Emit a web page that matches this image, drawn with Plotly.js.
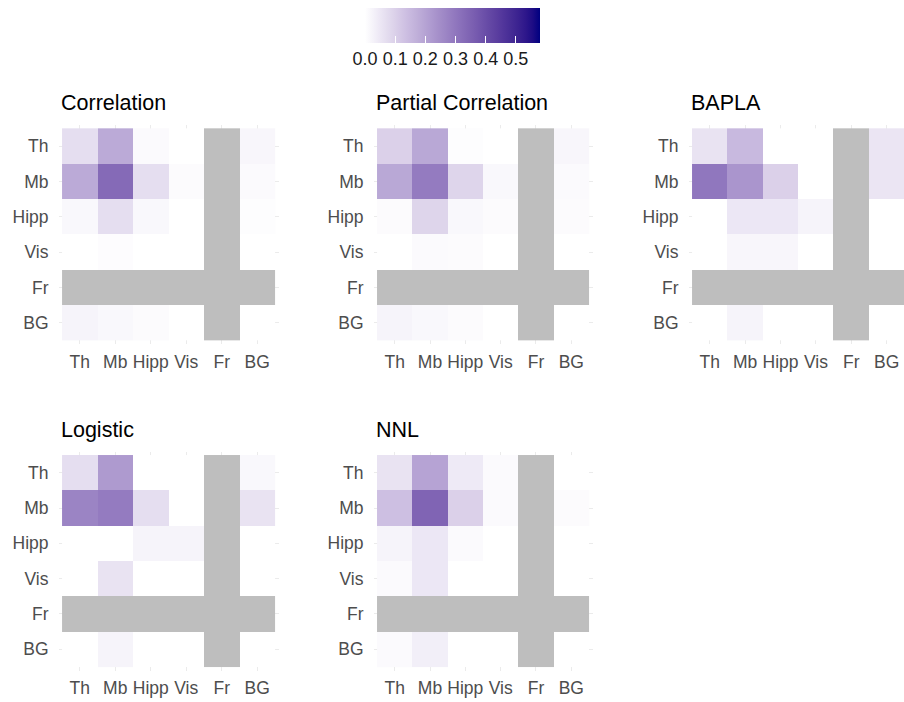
<!DOCTYPE html>
<html>
<head>
<meta charset="utf-8">
<script src="https://cdn.plot.ly/plotly-3.0.1.min.js"></script>
<style>
  html, body { margin: 0; padding: 0; background: #ffffff; }
  #chart { width: 904px; height: 702px; }
</style>
</head>
<body>
<div id="chart"></div>
<script>
// Brain regions (rows = source, columns = target)
const regions = ["Th", "Mb", "Hipp", "Vis", "Fr", "BG"];
const panelTitles = ["Correlation", "Partial Correlation", "BAPLA", "Logistic", "NNL"];
const colorTicks = [0, 0.1, 0.2, 0.3, 0.4, 0.5];

// Connection strengths; Fr was not recorded (null)
const correlation = [
  [0.07, 0.185, 0.01, 0, null, 0.02],
  [0.185, 0.33, 0.07, 0.008, null, 0.01],
  [0.015, 0.07, 0.015, 0, null, 0.005],
  [0, 0.006, 0, 0, null, 0],
  [null, null, null, null, null, null],
  [0.025, 0.015, 0.008, 0, null, 0]
];
const partialCorrelation = [
  [0.10, 0.19, 0.005, 0, null, 0.02],
  [0.19, 0.29, 0.09, 0.015, null, 0.012],
  [0.008, 0.09, 0.015, 0.008, null, 0.008],
  [0, 0.012, 0.008, 0, null, 0],
  [null, null, null, null, null, null],
  [0.025, 0.015, 0.008, 0, null, 0]
];
const bapla = [
  [0.06, 0.15, 0, 0, null, 0.055],
  [0.30, 0.23, 0.10, 0, null, 0.055],
  [0, 0.05, 0.05, 0.025, null, 0],
  [0, 0.02, 0.02, 0, null, 0],
  [null, null, null, null, null, null],
  [0, 0.025, 0, 0, null, 0]
];
const logistic = [
  [0.07, 0.22, 0, 0, null, 0.015],
  [0.27, 0.29, 0.07, 0, null, 0.06],
  [0, 0, 0.025, 0.025, null, 0],
  [0, 0.06, 0, 0, null, 0],
  [null, null, null, null, null, null],
  [0, 0.025, 0, 0, null, 0]
];
const nnl = [
  [0.06, 0.20, 0.045, 0.01, null, 0],
  [0.137, 0.345, 0.10, 0.01, null, 0.008],
  [0.025, 0.05, 0.012, 0, null, 0],
  [0.01, 0.05, 0, 0, null, 0],
  [null, null, null, null, null, null],
  [0.012, 0.035, 0, 0, null, 0]
];
const panelData = [correlation, partialCorrelation, bapla, logistic, nnl];

// White -> navy gradient interpolated in CIE Lab
function toLin(c) { c /= 255; return c <= 0.04045 ? c / 12.92 : Math.pow((c + 0.055) / 1.055, 2.4); }
function toSrgb(c) {
  const v = c <= 0.0031308 ? 12.92 * c : 1.055 * Math.pow(c, 1 / 2.4) - 0.055;
  return Math.round(Math.max(0, Math.min(1, v)) * 255);
}
function rgbToLab(rgb) {
  const R = toLin(rgb[0]), G = toLin(rgb[1]), B = toLin(rgb[2]);
  const X = (0.4124 * R + 0.3576 * G + 0.1805 * B) / 0.95047;
  const Y = 0.2126 * R + 0.7152 * G + 0.0722 * B;
  const Z = (0.0193 * R + 0.1192 * G + 0.9505 * B) / 1.08883;
  const f = t => t > 0.008856 ? Math.cbrt(t) : 7.787 * t + 16 / 116;
  return [116 * f(Y) - 16, 500 * (f(X) - f(Y)), 200 * (f(Y) - f(Z))];
}
function labToRgb(lab) {
  const fy = (lab[0] + 16) / 116, fx = fy + lab[1] / 500, fz = fy - lab[2] / 200;
  const inv = t => t * t * t > 0.008856 ? t * t * t : (t - 16 / 116) / 7.787;
  const X = inv(fx) * 0.95047, Y = inv(fy), Z = inv(fz) * 1.08883;
  const R = 3.2406 * X - 1.5372 * Y - 0.4986 * Z;
  const G = -0.9689 * X + 1.8758 * Y + 0.0415 * Z;
  const B = 0.0557 * X - 0.2040 * Y + 1.0570 * Z;
  return "rgb(" + toSrgb(R) + "," + toSrgb(G) + "," + toSrgb(B) + ")";
}
const lowLab = rgbToLab([255, 255, 255]);
const highLab = rgbToLab([0, 0, 128]);
const gradient = [];
for (let i = 0; i <= 24; i++) {
  const t = i / 24;
  gradient.push([t, labToRgb(lowLab.map((v, k) => v + (highLab[k] - v) * t))]);
}

// Panel placement in pixels: [left, right, top, bottom] of each panel area
const W = 904, H = 702;
const boxes = [
  [58.5, 278.5, 124.8, 344.2],
  [373.5, 592.5, 124.8, 344.2],
  [688.5, 904, 124.8, 344.2],
  [58.5, 278.5, 451.5, 670.5],
  [373.5, 592.5, 451.5, 670.5]
];

const textFont = "Liberation Sans, Arial, sans-serif";
const traces = [];
const layout = {
  width: W, height: H,
  margin: { l: 0, r: 0, t: 0, b: 0 },
  paper_bgcolor: "#ffffff",
  plot_bgcolor: "#ffffff",
  font: { family: textFont, color: "#4d4d4d" },
  coloraxis: {
    cmin: 0, cmax: 0.58,
    colorscale: gradient,
    colorbar: {
      orientation: "h",
      x: 452.5 / W, xanchor: "center",
      y: 1 - 8 / H, yanchor: "top",
      len: 175, lenmode: "pixels",
      thickness: 35, thicknessmode: "pixels",
      xpad: 0, ypad: 0,
      outlinewidth: 0,
      tickvals: colorTicks,
      tickformat: ".1f",
      ticks: "inside", ticklen: 7, tickwidth: 1, tickcolor: "#ffffff",
      ticklabelstandoff: 6,
      tickfont: { size: 18, color: "#1a1a1a", family: textFont }
    }
  },
  annotations: [],
  showlegend: false
};

panelData.forEach((vals, p) => {
  const n = p === 0 ? "" : String(p + 1);
  const xa = "x" + n, ya = "y" + n;
  const b = boxes[p];
  // gray blocks for regions without a recording
  const missing = vals.map(row => row.map(v => (v === null ? 1 : null)));
  traces.push({
    type: "heatmap", x: regions, y: regions, z: vals,
    coloraxis: "coloraxis", xaxis: xa, yaxis: ya,
    hoverongaps: false, xgap: 0, ygap: 0
  });
  traces.push({
    type: "heatmap", x: regions, y: regions, z: missing,
    colorscale: [[0, "#bebebe"], [1, "#bebebe"]], showscale: false,
    xaxis: xa, yaxis: ya, hoverongaps: false
  });
  const xmax = p === 2 ? -0.6 + (b[1] - b[0]) / ((b[3] - b[2]) / 6.2) : 5.6;
  const axisCommon = {
    type: "category",
    showgrid: true, gridcolor: "#ebebeb", gridwidth: 1,
    zeroline: false, showline: false, ticks: "",
    tickfont: { size: 17.5, color: "#4d4d4d", family: textFont },
    fixedrange: true
  };
  layout["xaxis" + n] = Object.assign({}, axisCommon, {
    domain: [b[0] / W, b[1] / W],
    range: [-0.6, xmax],
    anchor: ya,
    categoryorder: "array", categoryarray: regions,
    ticklabelstandoff: 5
  });
  layout["yaxis" + n] = Object.assign({}, axisCommon, {
    domain: [1 - b[3] / H, 1 - b[2] / H],
    range: [5.6, -0.6],
    anchor: xa,
    categoryorder: "array", categoryarray: regions,
    ticklabelstandoff: 9
  });
  layout.annotations.push({
    text: panelTitles[p],
    xref: "paper", yref: "paper",
    x: b[0] / W, y: 1 - (b[2] - 22) / H,
    xanchor: "left", yanchor: "middle",
    showarrow: false,
    font: { size: 21.5, color: "#000000", family: textFont }
  });
});

Plotly.newPlot("chart", traces, layout, { displayModeBar: false, staticPlot: true });
</script>
</body>
</html>
